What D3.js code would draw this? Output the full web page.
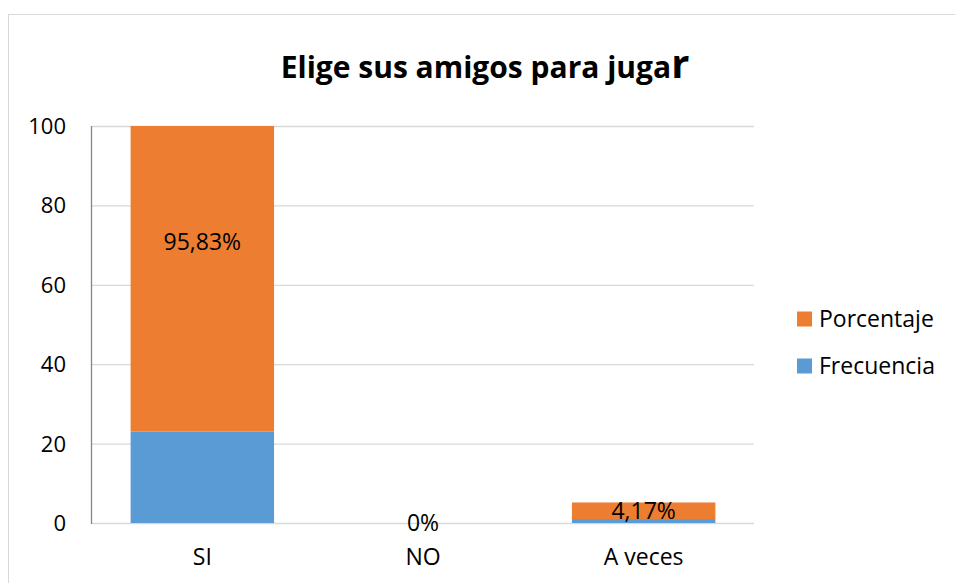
<!DOCTYPE html>
<html>
<head>
<meta charset="utf-8">
<script src="https://cdn.jsdelivr.net/npm/d3@7"></script>
<style>
  body { margin: 0; background: #fff; }
  svg { display: block; font-family: "Open Sans", sans-serif; }
</style>
</head>
<body>
<svg id="chart" width="955" height="583"></svg>
<script>
const categories = ["SI", "NO", "A veces"];
const frecuencia = [23, 0, 1];
const porcentaje = [95.83, 0, 4.17];
const pctLabels = ["95,83%", "0%", "4,17%"];
const yTicks = [0, 20, 40, 60, 80, 100];
const seriesNames = ["Frecuencia", "Porcentaje"];
const seriesColors = ["#5b9bd5", "#ed7d31"];

const svg = d3.select("#chart");

// outer chart frame
svg.append("rect")
  .attr("x", 8.5).attr("y", 14.5)
  .attr("width", 1000).attr("height", 1000)
  .attr("fill", "none")
  .attr("stroke", "#d9d9d9");

const plot = { left: 92, right: 754, top: 126, bottom: 523 };

const x = d3.scaleBand()
  .domain(categories)
  .range([plot.left, plot.right])
  .paddingInner(0.35)
  .paddingOuter(0.175);

const y = d3.scaleLinear()
  .domain([0, 100])
  .range([plot.bottom, plot.top]);

// gridlines
svg.append("g")
  .selectAll("line")
  .data(yTicks)
  .join("line")
  .attr("x1", plot.left).attr("x2", plot.right)
  .attr("y1", d => y(d) + 0.5).attr("y2", d => y(d) + 0.5)
  .attr("stroke", "#d9d9d9")
  .attr("stroke-width", 1.3);

// stacked data
const rows = categories.map((c, i) => ({ cat: c, Frecuencia: frecuencia[i], Porcentaje: porcentaje[i] }));
const stacked = d3.stack().keys(seriesNames)(rows);

svg.append("clipPath").attr("id", "plotClip")
  .append("rect")
  .attr("x", plot.left).attr("y", plot.top)
  .attr("width", plot.right - plot.left).attr("height", plot.bottom - plot.top);

svg.append("g")
  .attr("clip-path", "url(#plotClip)")
  .selectAll("g")
  .data(stacked)
  .join("g")
  .attr("fill", (d, i) => seriesColors[i])
  .selectAll("rect")
  .data(d => d)
  .join("rect")
  .attr("x", d => x(d.data.cat))
  .attr("width", x.bandwidth())
  .attr("y", d => y(d[1]))
  .attr("height", d => y(d[0]) - y(d[1]));

// left axis line
svg.append("line")
  .attr("x1", plot.left - 0.5).attr("x2", plot.left - 0.5)
  .attr("y1", plot.top).attr("y2", plot.bottom + 1)
  .attr("stroke", "#868686")
  .attr("stroke-width", 1.3);

// y tick labels
svg.append("g")
  .selectAll("text")
  .data(yTicks)
  .join("text")
  .attr("x", 66)
  .attr("y", d => y(d))
  .attr("dy", "0.36em")
  .attr("text-anchor", "end")
  .attr("font-size", 22)
  .attr("fill", "#000")
  .text(d => d);

// category labels
svg.append("g")
  .selectAll("text")
  .data(categories)
  .join("text")
  .attr("x", d => x(d) + x.bandwidth() / 2)
  .attr("y", 565)
  .attr("text-anchor", "middle")
  .attr("font-size", 23)
  .text(d => d);

// data labels centred on the porcentaje segment
const pctStack = stacked[1];
svg.append("g")
  .selectAll("text")
  .data(pctStack)
  .join("text")
  .attr("x", d => x(d.data.cat) + x.bandwidth() / 2)
  .attr("y", d => y((d[0] + d[1]) / 2))
  .attr("dy", "0.36em")
  .attr("text-anchor", "middle")
  .attr("font-size", 23)
  .text((d, i) => pctLabels[i]);

// title
const title = svg.append("text")
  .attr("x", 485).attr("y", 78)
  .attr("text-anchor", "middle")
  .attr("font-size", 30)
  .attr("font-weight", "bold");
title.append("tspan").text("Elige sus amigos para juga");
title.append("tspan").attr("font-size", 40).text("r");

// legend
const legendItems = [
  { name: "Porcentaje", color: seriesColors[1] },
  { name: "Frecuencia", color: seriesColors[0] }
];
const leg = svg.append("g")
  .selectAll("g")
  .data(legendItems)
  .join("g")
  .attr("transform", (d, i) => `translate(797, ${319 + i * 47})`);
leg.append("rect")
  .attr("x", 0).attr("y", -7.5)
  .attr("width", 15).attr("height", 15)
  .attr("fill", d => d.color);
leg.append("text")
  .attr("x", 22).attr("y", 0)
  .attr("dy", "0.36em")
  .attr("font-size", 23)
  .text(d => d.name);
</script>
</body>
</html>
